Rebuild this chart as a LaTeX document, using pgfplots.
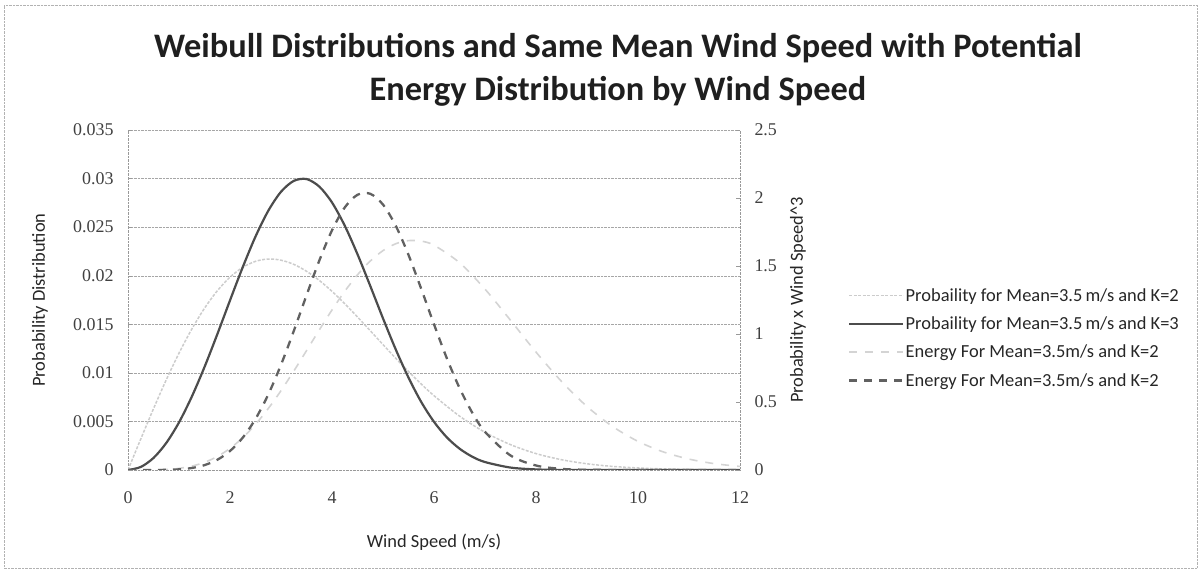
\documentclass[border=0pt]{standalone}
\usepackage{fontspec}
\setmainfont{Carlito}
\newfontfamily\tickfont{Liberation Serif}
\usepackage{pgfplots}
\pgfplotsset{compat=1.18}

\tikzset{
  pkb/.style={black!20, line width=1.5bp, dash pattern=on 3bp off 1.5bp},
  pkc/.style={black!70, line width=2.2bp},
  ekb/.style={black!17, line width=1.6bp, dash pattern=on 8bp off 8bp},
  ekc/.style={black!62, line width=2.3bp, dash pattern=on 8bp off 7bp},
}

\pgfplotsset{
  commonax/.style={
    at={(128bp,103bp)}, anchor=south west, scale only axis,
    width=612bp, height=340bp,
    xmin=0, xmax=12,
    /pgf/number format/assume math mode=true,
    /pgf/number format/fixed,
    /pgf/number format/precision=3,
    scaled y ticks=false,
    axis line style={black!40, densely dotted},
    tick style={black!40, thin},
    major tick length=4bp,
    ticklabel style={font=\tickfont\fontsize{18}{18}\selectfont, text=black!75},
    label style={font=\fontsize{18.5}{18.5}\selectfont, text=black!85},
  }
}

\begin{document}
\begin{tikzpicture}
\path[use as bounding box] (0bp,0bp) rectangle (1199bp,573bp);
\draw[black!30, densely dotted] (4bp,5bp) rectangle (1197bp,568bp);

\node[font=\bfseries\fontsize{34.5}{40}\selectfont, text=black!88] at (618bp,525bp) {Weibull Distributions and Same Mean Wind Speed with Potential};
\node[font=\bfseries\fontsize{34.5}{40}\selectfont, text=black!88] at (618bp,482bp) {Energy Distribution by Wind Speed};

\begin{axis}[commonax,
  ymin=0, ymax=0.035,
  ytick={0,0.005,0.01,0.015,0.02,0.025,0.03,0.035},
  xtick={0,2,4,6,8,10,12},
  axis y line*=left, axis x line*=bottom,
  xtick style={draw=none},
  ytick pos=left,
  ymajorgrids, grid style={black!35, densely dotted},
  xticklabel style={yshift=-18bp},
  yticklabel style={xshift=-11bp},
  xlabel={Wind Speed (m/s)},
  ylabel={Probability Distribution},
  xlabel style={at={(rel axis cs:0.5,0)}, anchor=center, yshift=-72bp},
  ylabel style={at={(rel axis cs:0,0.5)}, anchor=center, yshift=88bp},
]
\addplot[pkb, smooth] coordinates {
(0,0)(0.25,0.00319)(0.5,0.00631)(0.75,0.00928)(1,0.01203)(1.25,0.01450)(1.5,0.01665)(1.75,0.01844)(2,0.01985)(2.25,0.02086)(2.5,0.02148)(2.75,0.02172)(3,0.02160)(3.25,0.02117)(3.5,0.02046)(3.75,0.01952)(4,0.01839)(4.25,0.01712)(4.5,0.01575)(4.75,0.01434)(5,0.01291)(5.25,0.01150)(5.5,0.01014)(5.75,0.00885)(6,0.00765)(6.5,0.00555)(7,0.00388)(7.5,0.00261)(8,0.00169)(8.5,0.00106)(9,0.00064)(9.5,0.00037)(10,0.00021)(10.5,0.00011)(11,0.00006)(11.5,0.00003)(12,0.00002)
};
\addplot[pkc, smooth] coordinates {
(0,0)(0.25,0.00031)(0.5,0.00124)(0.75,0.00278)(1,0.00490)(1.25,0.00754)(1.5,0.01060)(1.75,0.01396)(2,0.01746)(2.25,0.02088)(2.5,0.02403)(2.75,0.02668)(3,0.02864)(3.25,0.02976)(3.5,0.02995)(3.75,0.02918)(4,0.02754)(4.25,0.02515)(4.5,0.02221)(4.75,0.01895)(5,0.01561)(5.25,0.01241)(5.5,0.00951)(5.75,0.00700)(6,0.00496)(6.25,0.00337)(6.5,0.00220)(6.75,0.00137)(7,0.00082)(7.5,0.00025)(8,0.00006)(8.5,0.00001)(9,0)(10,0)(11,0)(12,0)
};
\end{axis}

\begin{axis}[commonax,
  ymin=0, ymax=2.5,
  ytick={0,0.5,1,1.5,2,2.5},
  axis x line=none, axis y line*=right,
  ytick pos=right,
  yticklabel style={xshift=11bp},
  ylabel={Probability x Wind Speed\^{}3},
  ylabel style={at={(rel axis cs:1,0.5)}, anchor=center, yshift=-58bp},
  legend style={at={(1.176,0.388)}, anchor=west, draw=none, fill=none,
    font=\fontsize{18.5}{18.5}\selectfont, text=black!85,
    row sep=10bp, inner xsep=0bp, inner ysep=0bp,
    nodes={inner xsep=1.5bp}},
  legend cell align=left,
  legend image code/.code={\draw[#1] (0bp,0bp) -- (54bp,0bp);},
]
\addlegendimage{pkb}
\addlegendentry{Probaility for Mean=3.5\,m/s and K=2}
\addlegendimage{pkc}
\addlegendentry{Probaility for Mean=3.5\,m/s and K=3}
\addplot[ekb, smooth] coordinates {
(0,0)(0.25,0.00005)(0.5,0.00079)(0.75,0.00391)(1,0.01203)(1.25,0.02833)(1.5,0.05620)(1.75,0.09884)(2,0.15878)(2.25,0.23759)(2.5,0.33556)(2.75,0.45162)(3,0.58331)(3.25,0.72686)(3.5,0.87739)(3.75,1.02932)(4,1.17683)(4.25,1.31400)(4.5,1.43540)(4.75,1.53631)(5,1.61313)(5.25,1.66365)(5.5,1.68671)(5.75,1.68260)(6,1.65270)(6.5,1.52442)(7,1.33002)(7.5,1.10101)(8,0.86697)(8.5,0.65135)(9,0.46684)(9.5,0.32038)(10,0.21039)(10.5,0.13249)(11,0.08011)(11.5,0.04654)(12,0.02609)
};
\addlegendentry{Energy For Mean=3.5m/s and K=2}
\addplot[ekc, smooth] coordinates {
(0,0)(0.25,0.000005)(0.5,0.00016)(0.75,0.00118)(1,0.00490)(1.25,0.01473)(1.5,0.03579)(1.75,0.07484)(2,0.13964)(2.25,0.23786)(2.5,0.37544)(2.75,0.55488)(3,0.77339)(3.25,1.02167)(3.5,1.28411)(3.75,1.53900)(4,1.76230)(4.25,1.93050)(4.5,2.02370)(4.75,2.03112)(5,1.95163)(5.25,1.79577)(5.5,1.58156)(5.75,1.33153)(6,1.07136)(6.25,0.82300)(6.5,0.60335)(6.75,0.42165)(7,0.28057)(7.5,0.10673)(8,0.03302)(8.5,0.00818)(9,0.0016)(10,0)(11,0)(12,0)
};
\addlegendentry{Energy For Mean=3.5m/s and K=2}
\end{axis}
\end{tikzpicture}
\end{document}
